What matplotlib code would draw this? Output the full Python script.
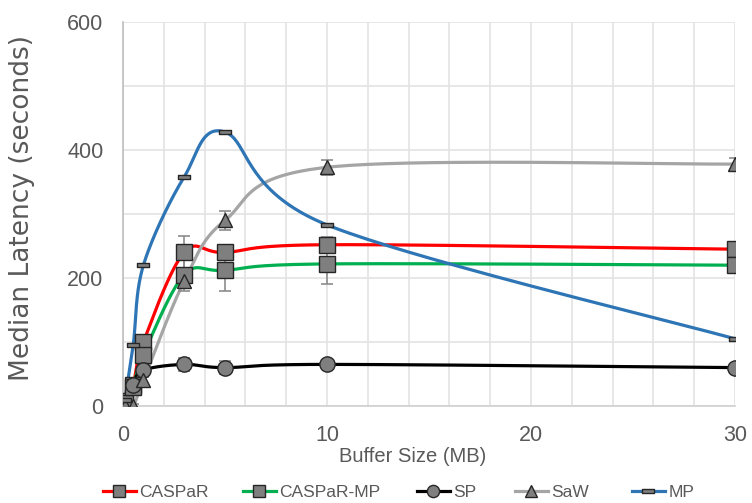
"""Median latency vs buffer size — Excel-style smoothed lines with error bars."""

import numpy as np
import matplotlib.pyplot as plt
from matplotlib.path import Path
from matplotlib.lines import Line2D

# ------------------------------
# Data
# ------------------------------

buffer_mb = [0.1, 0.5, 1, 3, 5, 10, 30]

caspar = [8, 33, 100, 240, 240, 252, 245]
caspar_err = [3, 5, 8, 25, 12, 12, 12]

caspar_mp = [5, 30, 80, 205, 212, 222, 220]
caspar_mp_err = [3, 5, 8, 25, 32, 32, 12]

sp = [0, 33, 56, 65, 60, 65, 60]
sp_err = [2, 4, 5, 10, 10, 6, 4]

saw = [0, 0, 40, 195, 290, 373, 378]
saw_err = [2, 3, 5, 8, 15, 12, 10]

mp = [10, 95, 220, 358, 428, 283, 105]
mp_err = [0, 0, 0, 0, 0, 0, 0]

series_names = ["CASPaR", "CASPaR-MP", "SP", "SaW", "MP"]

# ------------------------------
# Excel-like smoothing (bezier through points, done in pixel space)
# ------------------------------

SX = 612 / 30.0
SY = 384 / 600.0


def smooth(x, y, n=40):
    p = np.column_stack([np.asarray(x, float) * SX, np.asarray(y, float) * SY])
    out = [p[0]]
    m = len(p)
    t = np.linspace(0, 1, n)[1:, None]
    for i in range(m - 1):
        p0, p3 = p[i], p[i + 1]
        prev = p[i - 1] if i > 0 else p[i]
        nxt = p[i + 2] if i + 2 < m else p[i + 1]
        c1 = p0 + (p3 - prev) / 6.0
        c2 = p3 - (nxt - p0) / 6.0
        seg = ((1 - t) ** 3) * p0 + 3 * ((1 - t) ** 2) * t * c1 + 3 * (1 - t) * t ** 2 * c2 + t ** 3 * p3
        out.extend(seg)
    out = np.array(out)
    return out[:, 0] / SX, out[:, 1] / SY


# ------------------------------
# Plot
# ------------------------------

plt.rcParams["font.family"] = ["Liberation Sans", "DejaVu Sans"]
txt_gray = "#595959"

fig = plt.figure(figsize=(7.52, 5.03), dpi=100)
ax = fig.add_axes([123 / 752, 1 - 406 / 503, 612 / 752, 384 / 503])

rect = Path([(-1, -0.3), (1, -0.3), (1, 0.3), (-1, 0.3), (-1, -0.3)],
            [Path.MOVETO, Path.LINETO, Path.LINETO, Path.LINETO, Path.CLOSEPOLY])

styles = [
    (caspar, caspar_err, "#FF0000", "s", 11),
    (caspar_mp, caspar_mp_err, "#00B050", "s", 11),
    (sp, sp_err, "#000000", "o", 11),
    (saw, saw_err, "#A5A5A5", "^", 10),
    (mp, mp_err, "#2E75B6", rect, 9),
]

mface = "#7F7F7F"
medge = "#262626"

handles = []
for (vals, err, col, mk, ms), name in zip(styles, series_names):
    xs, ys = smooth(buffer_mb, vals)
    ax.plot(xs, ys, color=col, lw=2.3, zorder=3, solid_capstyle="round")
    if max(err) > 0:
        ax.errorbar(buffer_mb, vals, yerr=err, fmt="none", ecolor="#8C8C8C",
                    elinewidth=1.2, capsize=4, capthick=1.2, zorder=4)
    ax.plot(buffer_mb, vals, ls="none", marker=mk, ms=ms, mfc=mface,
            mec=medge, mew=1.0, zorder=5)
    handles.append(Line2D([], [], color=col, lw=2.3, marker=mk,
                          ms=ms * 0.8 if mk != rect else ms,
                          mfc=mface, mec=medge, mew=1.0))

ax.set_xlim(0, 30)
ax.set_ylim(0, 600)
ax.set_xticks([0, 10, 20, 30])
ax.set_yticks([0, 200, 400, 600])
ax.set_xticks(np.arange(0, 31, 2), minor=True)
ax.set_yticks(np.arange(0, 601, 100), minor=True)
ax.grid(True, which="both", color="#E3E3E3", lw=1.2, zorder=0)
ax.set_axisbelow(True)

for s in ["top", "right"]:
    ax.spines[s].set_visible(False)
ax.spines["left"].set_color("#BFBFBF")
ax.spines["bottom"].set_color("#D0D0D0")
ax.spines["left"].set_linewidth(1.2)
ax.spines["bottom"].set_linewidth(1.2)
ax.tick_params(which="both", length=0, colors=txt_gray, labelsize=15.5)
ax.tick_params(axis="x", pad=14)
ax.tick_params(axis="y", pad=14)

fig.text(22 / 752, 1 - 208 / 503, "Median Latency (seconds)", rotation=90,
         ha="center", va="center", fontsize=19, color=txt_gray,
         family="DejaVu Sans")
fig.text(413 / 752, 1 - 456 / 503, "Buffer Size (MB)", ha="center", va="center",
         fontsize=14.5, color=txt_gray)

# one legend per entry so every handle sits where the reference has it
legend_x = [103, 243, 417, 515, 632]
for h, name, lx in zip(handles, series_names, legend_x):
    fig.legend([h], [name], loc="center left",
               bbox_to_anchor=(lx / 752, 1 - 492 / 503), frameon=False,
               fontsize=12.5, labelcolor=txt_gray, handlelength=1.9,
               handletextpad=0.2, borderpad=0, borderaxespad=0)

fig.savefig("out.png", dpi=100)
